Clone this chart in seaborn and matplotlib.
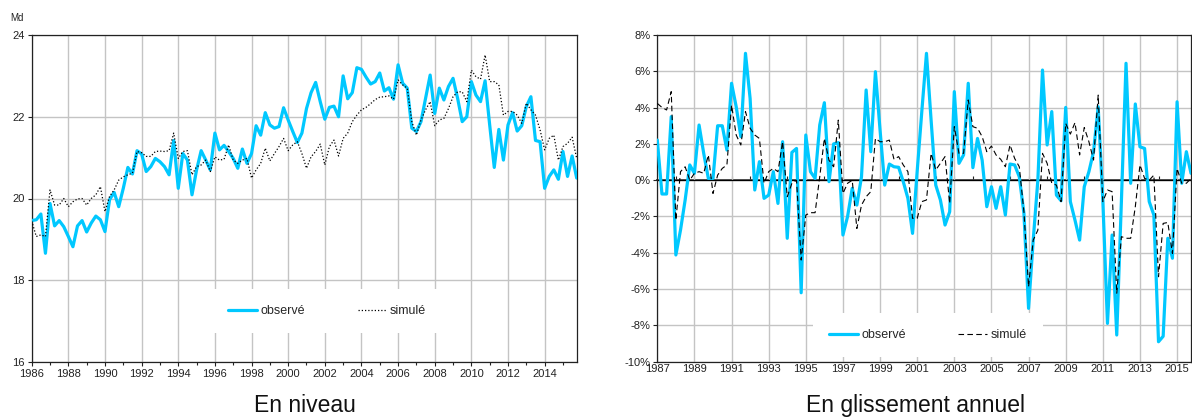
import numpy as np
import pandas as pd
import matplotlib
matplotlib.use("Agg")
import matplotlib.pyplot as plt
from matplotlib.ticker import FuncFormatter, MultipleLocator, NullFormatter
import seaborn as sns

# ---------------- data ----------------
# quarterly series, left chart starts 1986Q1, right chart starts 1987Q1
left_start = "1986Q1"
right_start = "1987Q1"

niveau_observe = [
    19.46, 19.48, 19.62, 18.66, 19.88, 19.33, 19.46, 19.31, 19.07, 18.82,
    19.33, 19.46, 19.18, 19.40, 19.57, 19.48, 19.19, 19.97, 20.15, 19.80,
    20.25, 20.76, 20.60, 21.17, 21.09, 20.66, 20.78, 20.98, 20.90, 20.78,
    20.58, 21.42, 20.25, 21.10, 20.94, 20.09, 20.70, 21.17, 20.94, 20.70,
    21.60, 21.19, 21.30, 21.15, 20.98, 20.74, 21.21, 20.86, 21.10, 21.78,
    21.55, 22.10, 21.80, 21.72, 21.76, 22.22, 21.92, 21.64, 21.37, 21.60,
    22.20, 22.59, 22.84, 22.37, 21.94, 22.23, 22.26, 22.00, 23.00, 22.44,
    22.59, 23.20, 23.16, 22.97, 22.80, 22.86, 23.07, 22.63, 22.71, 22.43,
    23.27, 22.82, 22.70, 21.72, 21.64, 21.88, 22.45, 23.02, 22.08, 22.70,
    22.41, 22.74, 22.94, 22.45, 21.88, 22.00, 22.86, 22.53, 22.37, 22.88,
    21.80, 20.76, 21.69, 20.94, 21.80, 22.10, 21.65, 21.78, 22.25, 22.49,
    21.42, 21.39, 20.25, 20.54, 20.70, 20.47, 21.15, 20.54, 21.04, 20.50,
]
niveau_simule = [
    19.45, 19.07, 19.11, 19.07, 20.21, 19.84, 19.84, 20.00, 19.80, 19.92,
    19.99, 20.00, 19.84, 20.00, 20.09, 20.29, 19.68, 20.05, 20.21, 20.45,
    20.53, 20.58, 20.62, 21.15, 21.12, 21.03, 21.03, 21.15, 21.16, 21.15,
    21.17, 21.60, 20.98, 21.15, 21.17, 20.58, 20.78, 20.82, 20.94, 20.66,
    21.02, 20.94, 20.96, 21.31, 20.94, 20.86, 20.94, 20.98, 20.50, 20.70,
    20.86, 21.23, 20.92, 21.10, 21.27, 21.47, 21.17, 21.31, 21.39, 21.10,
    20.74, 21.02, 21.15, 21.33, 20.82, 21.27, 21.43, 21.04, 21.47, 21.60,
    21.88, 22.04, 22.17, 22.23, 22.32, 22.42, 22.48, 22.49, 22.51, 22.43,
    22.90, 22.78, 22.70, 21.88, 21.55, 21.92, 22.17, 22.37, 21.78, 21.92,
    21.96, 22.20, 22.49, 22.61, 22.61, 22.37, 23.14, 22.98, 22.92, 23.51,
    22.86, 22.86, 22.78, 22.04, 22.13, 22.13, 22.04, 21.84, 22.33, 22.17,
    22.04, 21.68, 21.19, 21.47, 21.55, 20.94, 21.27, 21.35, 21.50, 20.98,
]
ga_observe = [
    2.21, -0.76, -0.76, 3.50, -4.12, -2.75, -1.09, 0.84, 0.38, 3.04,
    1.48, 0.10, 0.10, 3.00, 3.00, 1.66, 5.34, 4.05, 2.40, 6.99,
    4.50, -0.54, 1.02, -1.00, -0.82, 0.47, -1.28, 2.12, -3.20, 1.53,
    1.75, -6.20, 2.49, 0.47, 0.10, 3.04, 4.27, -0.08, 2.00, 2.07,
    -3.02, -2.00, -0.45, -1.37, 0.19, 4.97, 1.57, 5.98, 2.76, -0.27,
    0.89, 0.74, 0.71, -0.08, -1.00, -2.93, 0.50, 3.80, 6.99, 3.30,
    -0.27, -1.09, -2.47, -1.74, 4.88, 0.93, 1.39, 5.34, 0.69, 2.30,
    1.10, -1.46, -0.36, -1.55, -0.36, -1.92, 0.89, 0.84, 0.19, -1.83,
    -7.06, -3.30, 0.00, 6.07, 1.94, 3.78, -0.82, -1.13, 4.01, -1.18,
    -2.20, -3.30, -0.36, 0.47, 1.57, 4.05, -1.09, -7.89, -3.02, -8.53,
    -1.18, 6.44, -0.17, 4.20, 1.84, 1.75, -1.18, -1.92, -8.90, -8.60,
    -3.20, -4.30, 4.32, -0.17, 1.57, 0.38,
]
ga_simule = [
    4.23, 4.01, 3.87, 4.88, -2.20, 0.47, 0.74, 0.00, 0.38, 0.47,
    0.38, 1.39, -0.73, 0.28, 0.65, 0.84, 4.14, 2.49, 1.94, 3.78,
    2.86, 2.49, 2.30, -0.17, 0.47, 0.65, 0.47, 2.12, -0.91, -0.17,
    0.00, -4.40, -1.92, -1.79, -1.79, 0.19, 2.30, 1.10, 0.74, 3.31,
    -0.73, -0.17, 0.00, -2.66, -1.37, -0.91, -0.63, 2.30, 2.12, 2.12,
    2.21, 1.15, 1.30, 0.84, 0.47, -2.10, -2.10, -1.18, -1.09, 1.48,
    0.56, 0.93, 1.30, -1.28, 2.95, 1.48, 1.48, 4.42, 2.95, 2.86,
    2.40, 1.57, 1.88, 1.39, 1.15, 0.74, 1.94, 1.20, 0.74, -1.74,
    -5.87, -3.30, -2.75, 1.48, 0.93, -0.17, -0.27, -1.18, 3.13, 2.54,
    3.17, 1.39, 2.90, 2.12, 1.11, 4.69, -1.18, -0.54, -0.63, -6.23,
    -3.11, -3.20, -3.20, -1.46, 0.84, 0.10, 0.00, 0.28, -5.32, -2.38,
    -2.33, -4.03, 0.65, -0.17, -0.17, 0.10,
]
left_xticks = list(range(1986, 2015, 2))
right_xticks = list(range(1987, 2016, 2))
left_yticks = [16, 18, 20, 22, 24]
right_yticks = [-10, -8, -6, -4, -2, 0, 2, 4, 6, 8]
labels = ["observé", "simulé"]
titles = ["En niveau", "En glissement annuel"]
unit_label = "Md"


def decimal_quarters(start, n):
    p = pd.period_range(start=start, periods=n, freq="Q")
    return p.year + (p.quarter - 1) / 4.0


x_left = decimal_quarters(left_start, len(niveau_observe))
x_right = decimal_quarters(right_start, len(ga_observe))

# ---------------- style ----------------
sns.set_theme(style="white")
plt.rcParams["font.family"] = ["Liberation Sans", "DejaVu Sans"]

CYAN = "#00C8FF"
GRID = "#c4c4c4"
W, H = 1192, 418
fig = plt.figure(figsize=(W / 100, H / 100), dpi=100)


def axes_px(x0, y0, x1, y1):
    return fig.add_axes([x0 / W, 1 - y1 / H, (x1 - x0) / W, (y1 - y0) / H])


ax1 = axes_px(31.7, 35, 576.7, 362)
ax2 = axes_px(657.3, 35, 1191, 361.7)

for ax in (ax1, ax2):
    ax.set_facecolor("white")
    for s in ax.spines.values():
        s.set_visible(True)
        s.set_color("#222222")
        s.set_linewidth(0.9)
    ax.grid(True, which="major", color=GRID, linewidth=1.0, zorder=0)
    ax.set_axisbelow(True)
    ax.tick_params(axis="both", which="both", direction="out", labelsize=8,
                   colors="#222222", length=3, width=0.8, pad=2)
    ax.tick_params(axis="x", which="minor", length=2, width=0.8, bottom=True)
    ax.tick_params(axis="both", which="major", left=True, bottom=True)

# ---- left chart ----
sns.lineplot(x=x_left, y=niveau_observe, ax=ax1, color=CYAN, linewidth=2.3,
             label=labels[0], zorder=3)
sns.lineplot(x=x_left, y=niveau_simule, ax=ax1, color="black", linewidth=0.9,
             linestyle=(0, (1, 1.6)), label=labels[1], zorder=4)
ax1.set_xlim(1986, 2015.75)
ax1.set_ylim(16, 24)
ax1.set_xticks(left_xticks)
ax1.xaxis.set_minor_locator(MultipleLocator(1))
ax1.set_yticks(left_yticks)
ax1.set_xlabel("")
ax1.set_ylabel("")
leg1 = ax1.legend(loc="center", bbox_to_anchor=(0.542, 0.156), ncol=2,
                  frameon=True, fontsize=9, handlelength=2.3, columnspacing=4.2,
                  handletextpad=0.3, borderpad=1.3, fancybox=False)
leg1.get_frame().set_facecolor("white")
leg1.get_frame().set_edgecolor("none")
leg1.get_frame().set_alpha(1)

# ---- right chart ----
sns.lineplot(x=x_right, y=ga_observe, ax=ax2, color=CYAN, linewidth=2.3,
             label=labels[0], zorder=3)
sns.lineplot(x=x_right, y=ga_simule, ax=ax2, color="black", linewidth=0.8,
             linestyle=(0, (5, 3)), label=labels[1], zorder=4)
ax2.axhline(0, color="black", linewidth=0.9, zorder=2)
ax2.set_xlim(1987, 2015.75)
ax2.set_ylim(-10, 8)
ax2.set_xticks(right_xticks)
ax2.set_yticks(right_yticks)
ax2.yaxis.set_major_formatter(FuncFormatter(lambda v, p: f"{v:.0f}%"))
ax2.tick_params(axis="x", which="major", length=0)
ax2.set_xlabel("")
ax2.set_ylabel("")

# small yearly tick marks hanging below the 0 % line (category axis crossing)
zero_frac = (0 - (-10)) / (8 - (-10))
sec = ax2.secondary_xaxis(zero_frac)
sec.spines["bottom"].set_visible(False)
sec.set_xticks(list(range(1988, 2016)))
sec.xaxis.set_major_formatter(NullFormatter())
sec.tick_params(axis="x", direction="out", length=3, width=0.8,
                colors="#222222")

leg2 = ax2.legend(loc="center", bbox_to_anchor=(0.507, 0.082), ncol=2,
                  frameon=True, fontsize=9, handlelength=2.3, columnspacing=4.2,
                  handletextpad=0.3, borderpad=1.3, fancybox=False)
leg2.get_frame().set_facecolor("white")
leg2.get_frame().set_edgecolor("none")
leg2.get_frame().set_alpha(1)
leg2.set_zorder(10)

# ---- texts ----
fig.text(10 / W, 1 - 18 / H, unit_label, fontsize=7, color="#222222",
         ha="left", va="center")
fig.text(305 / W, 1 - 412 / H, titles[0], fontsize=16.5, color="#111111",
         ha="center", va="baseline")
fig.text(915 / W, 1 - 412 / H, titles[1], fontsize=16.5, color="#111111",
         ha="center", va="baseline")

fig.savefig("out.png", dpi=100)
